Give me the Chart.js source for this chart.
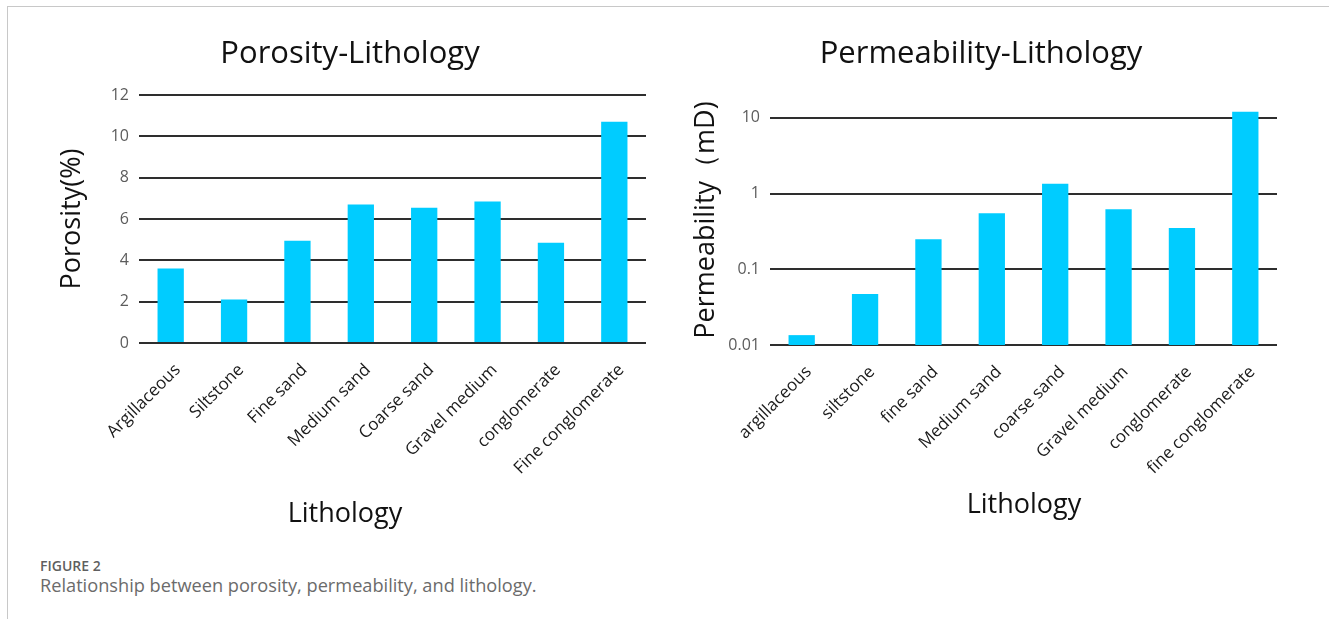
<!DOCTYPE html>
<html lang="en">
<head>
    <meta charset="UTF-8">
    <title>Porosity and Permeability by Lithology</title>
    <script src="https://cdn.jsdelivr.net/npm/chart.js"></script>
    <style>
        body {
            margin: 0;
            background: #fff;
            font-family: "Open Sans", sans-serif;
        }
        .frame {
            position: absolute;
            left: 7px;
            top: 6px;
            width: 1329px;
            height: 640px;
            border-left: 1px solid #c8c8c8;
            border-top: 1px solid #c8c8c8;
        }
        .chart-box {
            position: absolute;
            top: 0;
            height: 540px;
        }
        .axis-name {
            position: absolute;
            font-size: 27px;
            color: #111;
            white-space: nowrap;
            transform: translateX(-50%);
        }
        .caption {
            position: absolute;
            left: 40px;
            top: 556px;
            color: #6b6b6b;
        }
        .caption .fig {
            font-size: 14px;
            font-weight: 600;
            color: #5f5f5f;
        }
        .caption .text {
            font-size: 18.2px;
            margin-top: -2px;
        }
    </style>
</head>
<body>
    <div class="frame"></div>

    <div class="chart-box" style="left: 40px; width: 620px;">
        <canvas id="porosityChart"></canvas>
    </div>
    <div class="chart-box" style="left: 680px; width: 602px;">
        <canvas id="permeabilityChart"></canvas>
    </div>

    <div class="axis-name" style="left: 345px; top: 493px;">Lithology</div>
    <div class="axis-name" style="left: 1024px; top: 484px;">Lithology</div>

    <div class="caption">
        <div class="fig">FIGURE 2</div>
        <div class="text">Relationship between porosity, permeability, and lithology.</div>
    </div>

    <script>
        // lithology classes as labelled on each panel
        const porosityLabels = ['Argillaceous', 'Siltstone', 'Fine sand', 'Medium sand', 'Coarse sand', 'Gravel medium', 'conglomerate', 'Fine conglomerate'];
        const permeabilityLabels = ['argillaceous', 'siltstone', 'fine sand', 'Medium sand', 'coarse sand', 'Gravel medium', 'conglomerate', 'fine conglomerate'];

        // average porosity (%) and permeability (mD) per class
        const porosityValues = [3.6, 2.1, 4.95, 6.7, 6.55, 6.85, 4.85, 10.7];
        const permeabilityValues = [0.0135, 0.047, 0.25, 0.55, 1.35, 0.62, 0.35, 12];

        const porosityTicks = [0, 2, 4, 6, 8, 10, 12];
        const permeabilityTicks = [0.01, 0.1, 1, 10];

        const barColor = '#00ccff';
        const gridColor = '#2e2e2e';
        const fontFamily = "'Open Sans'";

        function baseOptions(titleText, yTitle, yWidth, xHeight, sidePad, yTitlePad) {
            return {
                responsive: false,
                animation: false,
                layout: { padding: { top: 0, right: sidePad, bottom: 0, left: sidePad } },
                plugins: {
                    legend: { display: false },
                    tooltip: { enabled: false },
                    title: {
                        display: true,
                        text: titleText,
                        color: '#111',
                        font: { family: fontFamily, size: 31, weight: 'normal' },
                        padding: { top: 36, bottom: 21.8 }
                    }
                },
                scales: {
                    x: {
                        grid: { display: false },
                        border: { display: false },
                        ticks: {
                            color: '#1a1a1a',
                            font: { family: fontFamily, size: 17 },
                            maxRotation: 45,
                            minRotation: 45,
                            autoSkip: false,
                            labelOffset: 7,
                            padding: 9
                        },
                        afterFit: scale => { scale.height = xHeight; }
                    },
                    y: {
                        border: { display: false },
                        grid: { color: gridColor, lineWidth: 2, drawTicks: false },
                        ticks: {
                            color: '#5c5c5c',
                            font: { family: fontFamily, size: 16 },
                            padding: 10
                        },
                        title: {
                            display: true,
                            text: yTitle,
                            color: '#111',
                            font: { family: fontFamily, size: 27 },
                            padding: { top: yTitlePad, bottom: 0 }
                        },
                        afterFit: scale => { scale.width = yWidth; }
                    }
                }
            };
        }

        function drawCharts() {
            // Porosity panel, linear axis
            const porosityOpts = baseOptions('Porosity-Lithology', 'Porosity(%)', 85, 197, 14, 2);
            porosityOpts.scales.y.min = porosityTicks[0];
            porosityOpts.scales.y.max = porosityTicks[porosityTicks.length - 1];
            porosityOpts.scales.y.afterBuildTicks = scale => {
                scale.ticks = porosityTicks.map(v => ({ value: v }));
            };

            const porosityCanvas = document.getElementById('porosityChart');
            porosityCanvas.width = 620;
            porosityCanvas.height = 540;
            new Chart(porosityCanvas, {
                type: 'bar',
                data: {
                    labels: porosityLabels,
                    datasets: [{
                        data: porosityValues,
                        backgroundColor: barColor,
                        categoryPercentage: 1,
                        barPercentage: 0.415
                    }]
                },
                options: porosityOpts
            });

            // Permeability panel, log axis with decade gridlines only
            const permeabilityOpts = baseOptions('Permeability-Lithology', 'Permeability（mD)', 85, 195, 5, 5);
            permeabilityOpts.scales.y.type = 'logarithmic';
            permeabilityOpts.scales.y.min = 0.01;
            permeabilityOpts.scales.y.max = 20;
            permeabilityOpts.scales.y.afterBuildTicks = scale => {
                scale.ticks = permeabilityTicks.map(v => ({ value: v }));
            };
            permeabilityOpts.scales.y.ticks.callback = v => String(v);

            const permeabilityCanvas = document.getElementById('permeabilityChart');
            permeabilityCanvas.width = 602;
            permeabilityCanvas.height = 540;
            new Chart(permeabilityCanvas, {
                type: 'bar',
                data: {
                    labels: permeabilityLabels,
                    datasets: [{
                        data: permeabilityValues,
                        backgroundColor: barColor,
                        categoryPercentage: 1,
                        barPercentage: 0.415
                    }]
                },
                options: permeabilityOpts
            });
        }

        document.fonts.load("27px 'Open Sans'").then(drawCharts, drawCharts);
    </script>
</body>
</html>
